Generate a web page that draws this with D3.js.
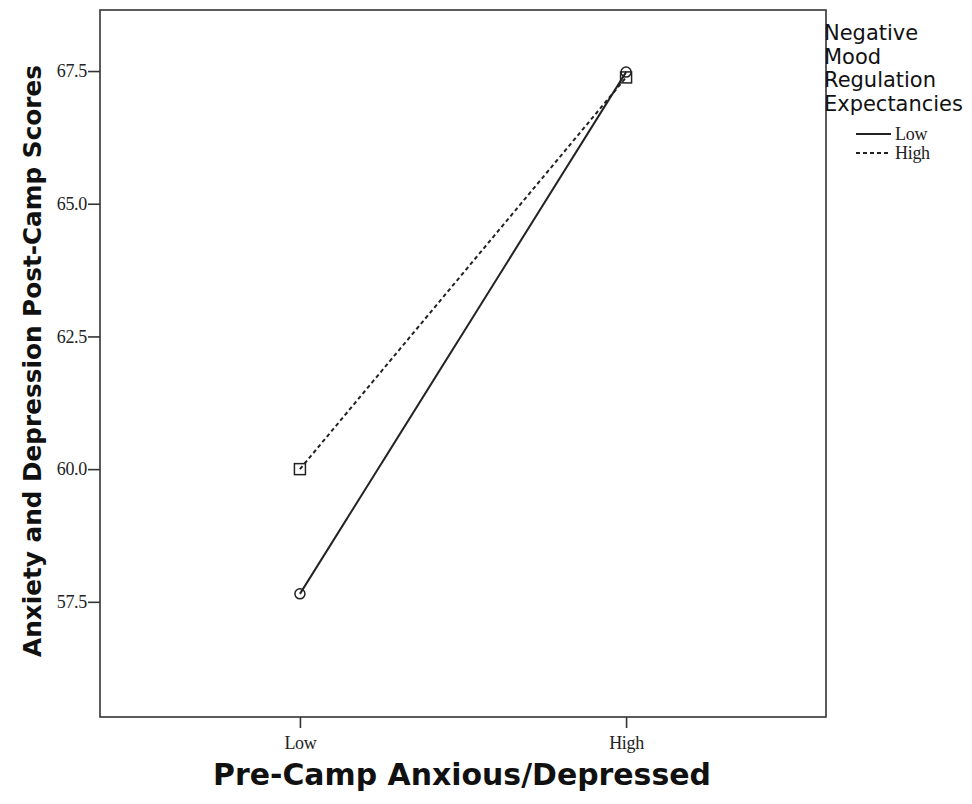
<!DOCTYPE html>
<html>
<head>
<meta charset="utf-8">
<script src="https://cdn.jsdelivr.net/npm/d3@7"></script>
<style>
  html, body { margin: 0; padding: 0; background: #fff; }
  svg { display: block; }
</style>
</head>
<body>
<div id="chart"></div>
<script>
// Data
const categories = ["Low", "High"];
const lowSeries = [57.65, 67.48];   // Negative mood regulation expectancies: Low
const highSeries = [60.0, 67.38];   // Negative mood regulation expectancies: High
const yTicks = [57.5, 60.0, 62.5, 65.0, 67.5];
const legendTitle = ["Negative", "Mood", "Regulation", "Expectancies"];
const legendLabels = ["Low", "High"];

const width = 972, height = 804;
const plot = { left: 100, right: 826, top: 10, bottom: 717 };

const svg = d3.select("#chart").append("svg")
    .attr("width", width)
    .attr("height", height);

const x = d3.scalePoint()
    .domain(categories)
    .range([plot.left, plot.right])
    .padding(0.613);

const y = d3.scaleLinear()
    .domain([55.33, 68.65])
    .range([plot.bottom, plot.top]);

const ink = "#222";
const serif = "'Liberation Serif', 'DejaVu Serif', serif";

// plot frame
svg.append("rect")
    .attr("x", plot.left)
    .attr("y", plot.top)
    .attr("width", plot.right - plot.left)
    .attr("height", plot.bottom - plot.top)
    .attr("fill", "none")
    .attr("stroke", "#333")
    .attr("stroke-width", 1.6);

// y axis
const yAxis = svg.append("g")
    .attr("transform", `translate(${plot.left},0)`)
    .call(d3.axisLeft(y).tickValues(yTicks).tickFormat(d3.format(".1f")).tickSize(12).tickSizeOuter(0));
yAxis.select(".domain").remove();
yAxis.selectAll(".tick line").attr("stroke", "#333").attr("stroke-width", 1.6);
yAxis.selectAll(".tick text")
    .attr("x", -13)
    .attr("fill", ink)
    .style("font-family", serif)
    .style("font-size", "18px")
    .style("letter-spacing", "-0.3px");

// x axis
const xAxis = svg.append("g")
    .attr("transform", `translate(0,${plot.bottom})`)
    .call(d3.axisBottom(x).tickSize(11).tickSizeOuter(0));
xAxis.select(".domain").remove();
xAxis.selectAll(".tick line").attr("stroke", "#333").attr("stroke-width", 1.6);
xAxis.selectAll(".tick text")
    .attr("y", 19)
    .attr("fill", ink)
    .style("font-family", serif)
    .style("font-size", "18px")
    .style("letter-spacing", "-0.3px");

// helper: fit text to a target width
function fitText(sel, target) {
    const len = sel.node().getComputedTextLength();
    const size = parseFloat(sel.style("font-size"));
    sel.style("font-size", (size * target / len).toFixed(2) + "px");
}

const titleFont = "'DejaVu Sans', Verdana, sans-serif";

const xTitle = svg.append("text")
    .attr("x", 462)
    .attr("y", 785)
    .attr("text-anchor", "middle")
    .attr("fill", "#111")
    .style("font-family", titleFont)
    .style("font-weight", "bold")
    .style("font-size", "22px")
    .text("Pre-Camp Anxious/Depressed");
fitText(xTitle, 498);

const yTitle = svg.append("text")
    .attr("transform", "translate(41,361) rotate(-90)")
    .attr("text-anchor", "middle")
    .attr("fill", "#111")
    .style("font-family", titleFont)
    .style("font-weight", "bold")
    .style("font-size", "22px")
    .text("Anxiety and Depression Post-Camp Scores");
fitText(yTitle, 592);

// series lines
const line = d3.line()
    .x((d, i) => x(categories[i]))
    .y(d => y(d));

svg.append("path")
    .datum(lowSeries)
    .attr("d", line)
    .attr("fill", "none")
    .attr("stroke", ink)
    .attr("stroke-width", 2);

svg.append("path")
    .datum(highSeries)
    .attr("d", line)
    .attr("fill", "none")
    .attr("stroke", ink)
    .attr("stroke-width", 2)
    .attr("stroke-dasharray", "4,3");

// markers: circles for Low, squares for High
svg.selectAll("circle.mk")
    .data(lowSeries)
    .join("circle")
    .attr("class", "mk")
    .attr("cx", (d, i) => x(categories[i]))
    .attr("cy", d => y(d))
    .attr("r", 5)
    .attr("fill", "none")
    .attr("stroke", ink)
    .attr("stroke-width", 1.5);

svg.selectAll("rect.mk")
    .data(highSeries)
    .join("rect")
    .attr("class", "mk")
    .attr("x", (d, i) => x(categories[i]) - 5.5)
    .attr("y", d => y(d) - 5.5)
    .attr("width", 11)
    .attr("height", 11)
    .attr("fill", "none")
    .attr("stroke", ink)
    .attr("stroke-width", 1.5);

// legend
const legend = svg.append("g");
legend.selectAll("text.lt")
    .data(legendTitle)
    .join("text")
    .attr("class", "lt")
    .attr("x", 824)
    .attr("y", (d, i) => 40 + i * 23.5)
    .attr("fill", "#111")
    .style("font-family", titleFont)
    .style("font-size", "19px")
    .text(d => d);
fitText(legend.select("text.lt:last-child"), 139);
legend.selectAll("text.lt").style("font-size", legend.select("text.lt:last-child").style("font-size"));

const items = legend.selectAll("g.item")
    .data(legendLabels)
    .join("g")
    .attr("class", "item")
    .attr("transform", (d, i) => `translate(0,${134 + i * 19})`);

items.append("line")
    .attr("x1", 856)
    .attr("x2", 891)
    .attr("stroke", ink)
    .attr("stroke-width", 2.2)
    .attr("stroke-dasharray", (d, i) => i === 1 ? "4,3" : null);

items.append("text")
    .attr("x", 895)
    .attr("y", 6)
    .attr("fill", ink)
    .style("font-family", serif)
    .style("font-size", "18px")
    .style("letter-spacing", "-0.3px")
    .text(d => d);
</script>
</body>
</html>
